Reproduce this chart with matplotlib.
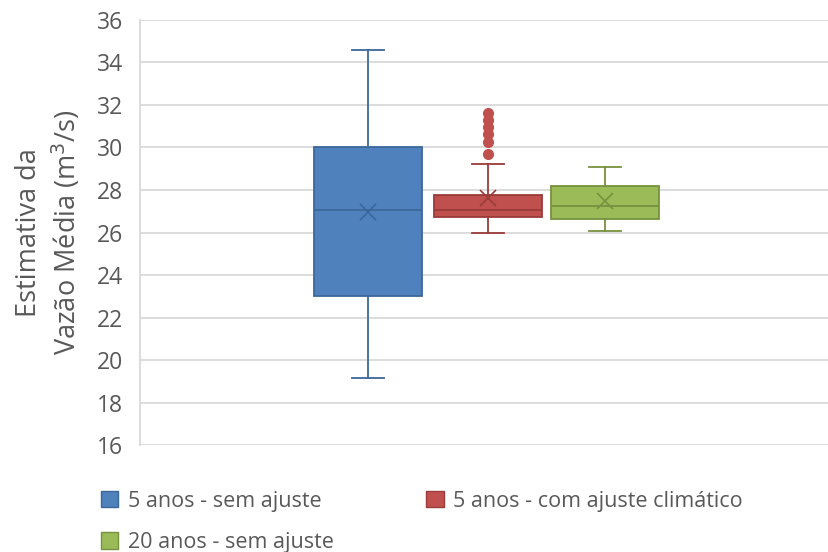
import matplotlib.pyplot as plt
from matplotlib.patches import Patch

plt.rcParams['font.family'] = ['Open Sans', 'DejaVu Sans']

# box statistics (m3/s)
labels = ['5 anos - sem ajuste', '5 anos - com ajuste climático', '20 anos - sem ajuste']
whislo = [19.15, 26.0, 26.05]
q1 = [23.0, 26.75, 26.65]
med = [27.05, 27.05, 27.25]
q3 = [30.0, 27.78, 28.2]
whishi = [34.6, 29.2, 29.08]
means = [26.95, 27.62, 27.48]
fliers = [[], [29.68, 30.28, 30.62, 30.95, 31.3, 31.64], []]

fill = ['#4F81BD', '#C0504D', '#9BBB59']
edge = ['#3C679A', '#9A3C3A', '#76923F']
yticks = list(range(16, 37, 2))

fig = plt.figure(figsize=(8.29, 5.52), dpi=100)
ax = fig.add_axes([0.1689, 0.1938, 0.83, 0.77])

positions = [0.331, 0.506, 0.676]
for i in range(3):
    st = dict(label=labels[i], whislo=whislo[i], q1=q1[i], med=med[i], q3=q3[i],
              whishi=whishi[i], mean=means[i], fliers=fliers[i])
    ax.bxp([st], positions=[positions[i]], widths=0.157, patch_artist=True,
           showmeans=True, capwidths=0.047,
           boxprops=dict(facecolor=fill[i], edgecolor=edge[i], linewidth=1.3),
           medianprops=dict(color=edge[i], linewidth=1.3),
           whiskerprops=dict(color=edge[i], linewidth=1.3),
           capprops=dict(color=edge[i], linewidth=1.3),
           meanprops=dict(marker='x', markeredgecolor=edge[i], markersize=12,
                          markeredgewidth=1.2),
           flierprops=dict(marker='o', markerfacecolor=fill[i], markeredgecolor=fill[i],
                           markersize=7))

ax.set_xlim(0, 1)
ax.set_ylim(16, 36)
ax.set_yticks(yticks)
ax.set_xticks([])
ax.grid(axis='y', color='#D9D9D9', linewidth=1.3)
ax.set_axisbelow(True)
for s in ['top', 'right', 'bottom']:
    ax.spines[s].set_visible(False)
ax.spines['left'].set_color('#D9D9D9')
ax.spines['left'].set_linewidth(1.3)
ax.tick_params(axis='y', length=0, pad=12, labelsize=16.5, labelcolor='#595959')
ax.set_ylabel('Estimativa da\nVazão Média (m$^3$/s)', fontsize=19.5, color='#595959',
              labelpad=10, linespacing=1.3)

# legend: blue and red on the first row, green below
order = [0, 2, 1]
handles = [Patch(facecolor=fill[i], edgecolor=edge[i], label=labels[i]) for i in order]
fig.legend(handles=handles, loc='upper left', bbox_to_anchor=(0.122, 0.111), ncol=2,
           frameon=False, fontsize=15.5, labelcolor='#595959', handlelength=0.8,
           handleheight=0.8, handletextpad=0.45, columnspacing=4.3, labelspacing=0.95,
           borderaxespad=0, borderpad=0)

fig.savefig('out.png', dpi=100)
